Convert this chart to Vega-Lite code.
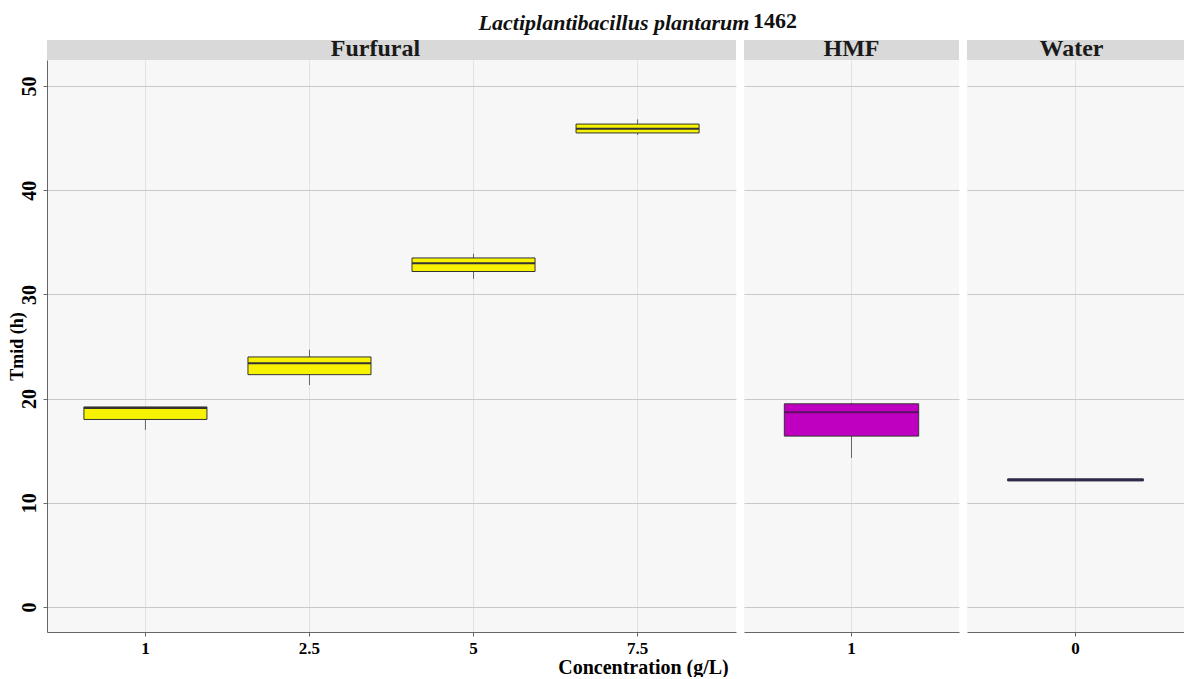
{
  "$schema": "https://vega.github.io/schema/vega-lite/v6.json",
  "padding": {"left": 8, "top": 10, "right": 0, "bottom": 0},
  "background": "white",
  "datasets": {
    "boxes": [
      {"panel": "Furfural", "conc": "1", "lower": 17.0, "q1": 18.0, "median": 19.1, "q3": 19.2, "upper": 19.2},
      {"panel": "Furfural", "conc": "2.5", "lower": 21.3, "q1": 22.3, "median": 23.4, "q3": 24.0, "upper": 24.7},
      {"panel": "Furfural", "conc": "5", "lower": 31.5, "q1": 32.2, "median": 33.0, "q3": 33.5, "upper": 33.9},
      {"panel": "Furfural", "conc": "7.5", "lower": 45.3, "q1": 45.5, "median": 45.9, "q3": 46.35, "upper": 46.8},
      {"panel": "HMF", "conc": "1", "lower": 14.3, "q1": 16.4, "median": 18.7, "q3": 19.5, "upper": 19.6},
      {"panel": "Water", "conc": "0", "lower": 12.2, "q1": 12.1, "median": 12.2, "q3": 12.3, "upper": 12.2}
    ],
    "panels": [{"panel": "Furfural"}, {"panel": "HMF"}, {"panel": "Water"}]
  },
  "config": {
    "font": "Liberation Serif",
    "view": {"fill": "#f7f7f7", "stroke": null},
    "axis": {
      "labelFont": "Liberation Serif", "labelFontWeight": "bold", "labelColor": "#000000",
      "titleFont": "Liberation Serif", "titleFontWeight": "bold", "titleColor": "#000000",
      "tickColor": "#666666", "domainColor": "#666666", "tickSize": 4
    },
    "axisY": {"gridColor": "#c9c9c9", "labelAngle": 270, "labelAlign": "center", "labelBaseline": "bottom", "labelPadding": 4, "labelFontSize": 20},
    "axisX": {"gridColor": "#e2e2e2", "labelAngle": 0, "bandPosition": 0.5, "labelPadding": 4, "labelFontSize": 17, "labelBaseline": "top"}
  },
  "title": {"text": "Lactiplantibacillus plantarum", "font": "Liberation Serif", "fontStyle": "italic", "fontWeight": "bold", "fontSize": 22, "color": "#111111", "anchor": "middle", "offset": 0, "dy": 25, "dx": 18},
  "vconcat": [
    {
      "title": {"text": "1462", "font": "Liberation Serif", "fontWeight": "bold", "fontSize": 22, "color": "#111111", "anchor": "middle", "dx": 179, "offset": 4},
      "spacing": 8,
      "hconcat": [
        {
          "bounds": "flush",
          "spacing": 0,
          "vconcat": [
            {
              "width": 689, "height": 20,
              "view": {"fill": "#d9d9d9", "stroke": null},
              "data": {"name": "panels"},
              "transform": [{"filter": "datum.panel === 'Furfural'"}],
              "mark": {"type": "text", "font": "Liberation Serif", "fontSize": 24, "fontWeight": "bold", "color": "#1a1a1a", "baseline": "middle", "dy": -1, "dx": -16},
              "encoding": {"text": {"field": "panel"}}
            },
            {
              "width": 689, "height": 572,
              "data": {"name": "boxes"},
              "transform": [{"filter": "datum.panel === 'Furfural'"}],
              "encoding": {
                "x": {"field": "conc", "type": "ordinal", "sort": ["1", "2.5", "5", "7.5"],
                  "scale": {"paddingInner": 0, "paddingOuter": 0.1},
                  "axis": {"title": "Concentration (g/L)", "titleFontSize": 20, "titleX": 596, "titleY": 25, "titleAlign": "center", "titleBaseline": "top", "grid": true}}
              },
              "layer": [
                {"mark": {"type": "rule", "color": "#666666", "strokeWidth": 1},
                 "encoding": {"y": {"field": "lower", "type": "quantitative", "scale": {"domain": [-2.4, 52.5], "nice": false, "zero": false},
                   "axis": {"title": "Tmid (h)", "titleFontSize": 18, "titlePadding": -7, "values": [0, 10, 20, 30, 40, 50], "grid": true}},
                   "y2": {"field": "upper"}}},
                {"mark": {"type": "bar", "width": {"band": 0.75}, "stroke": "#333333", "strokeWidth": 1},
                 "encoding": {"y": {"field": "q1", "type": "quantitative", "scale": {"domain": [-2.4, 52.5], "nice": false, "zero": false},
                   "axis": {"title": "Tmid (h)", "titleFontSize": 18, "titlePadding": -7, "values": [0, 10, 20, 30, 40, 50], "grid": true}},
                   "y2": {"field": "q3"},
                   "color": {"field": "panel", "type": "nominal", "scale": {"domain": ["Furfural", "HMF", "Water"], "range": ["#f7f200", "#c000c0", "#2d2a4a"]}, "legend": null}}},
                {"mark": {"type": "bar", "width": {"band": 0.75}, "fill": "#333333", "stroke": "#333333", "strokeWidth": 2},
                 "encoding": {"y": {"field": "median", "type": "quantitative", "scale": {"domain": [-2.4, 52.5], "nice": false, "zero": false},
                   "axis": {"title": "Tmid (h)", "titleFontSize": 18, "titlePadding": -7, "values": [0, 10, 20, 30, 40, 50], "grid": true}},
                   "y2": {"field": "median"}}}
              ]
            }
          ]
        },
        {
          "bounds": "flush",
          "spacing": 0,
          "vconcat": [
            {
              "width": 215, "height": 20,
              "view": {"fill": "#d9d9d9", "stroke": null},
              "data": {"name": "panels"},
              "transform": [{"filter": "datum.panel === 'HMF'"}],
              "mark": {"type": "text", "font": "Liberation Serif", "fontSize": 24, "fontWeight": "bold", "color": "#1a1a1a", "baseline": "middle", "dy": -1},
              "encoding": {"text": {"field": "panel"}}
            },
            {
              "width": 215, "height": 572,
              "data": {"name": "boxes"},
              "transform": [{"filter": "datum.panel === 'HMF'"}],
              "encoding": {
                "x": {"field": "conc", "type": "ordinal",
                  "scale": {"paddingInner": 0, "paddingOuter": 0.1},
                  "axis": {"title": null, "grid": true}}
              },
              "layer": [
                {"mark": {"type": "rule", "color": "#666666", "strokeWidth": 1},
                 "encoding": {"y": {"field": "lower", "type": "quantitative", "scale": {"domain": [-2.4, 52.5], "nice": false, "zero": false},
                   "axis": {"title": null, "values": [0, 10, 20, 30, 40, 50], "grid": true, "labels": false, "ticks": false, "domain": false}},
                   "y2": {"field": "upper"}}},
                {"mark": {"type": "bar", "width": {"band": 0.75}, "stroke": "#333333", "strokeWidth": 1},
                 "encoding": {"y": {"field": "q1", "type": "quantitative", "scale": {"domain": [-2.4, 52.5], "nice": false, "zero": false},
                   "axis": {"title": null, "values": [0, 10, 20, 30, 40, 50], "grid": true, "labels": false, "ticks": false, "domain": false}},
                   "y2": {"field": "q3"},
                   "color": {"field": "panel", "type": "nominal", "scale": {"domain": ["Furfural", "HMF", "Water"], "range": ["#f7f200", "#c000c0", "#2d2a4a"]}, "legend": null}}},
                {"mark": {"type": "bar", "width": {"band": 0.75}, "fill": "#5a1060", "stroke": "#5a1060", "strokeWidth": 2},
                 "encoding": {"y": {"field": "median", "type": "quantitative", "scale": {"domain": [-2.4, 52.5], "nice": false, "zero": false},
                   "axis": {"title": null, "values": [0, 10, 20, 30, 40, 50], "grid": true, "labels": false, "ticks": false, "domain": false}},
                   "y2": {"field": "median"}}}
              ]
            }
          ]
        },
        {
          "bounds": "flush",
          "spacing": 0,
          "vconcat": [
            {
              "width": 217, "height": 20,
              "view": {"fill": "#d9d9d9", "stroke": null},
              "data": {"name": "panels"},
              "transform": [{"filter": "datum.panel === 'Water'"}],
              "mark": {"type": "text", "font": "Liberation Serif", "fontSize": 24, "fontWeight": "bold", "color": "#1a1a1a", "baseline": "middle", "dy": -1, "dx": -4},
              "encoding": {"text": {"field": "panel"}}
            },
            {
              "width": 217, "height": 572,
              "data": {"name": "boxes"},
              "transform": [{"filter": "datum.panel === 'Water'"}],
              "encoding": {
                "x": {"field": "conc", "type": "ordinal",
                  "scale": {"paddingInner": 0, "paddingOuter": 0.1},
                  "axis": {"title": null, "grid": true}}
              },
              "layer": [
                {"mark": {"type": "rule", "color": "#666666", "strokeWidth": 1},
                 "encoding": {"y": {"field": "lower", "type": "quantitative", "scale": {"domain": [-2.4, 52.5], "nice": false, "zero": false},
                   "axis": {"title": null, "values": [0, 10, 20, 30, 40, 50], "grid": true, "labels": false, "ticks": false, "domain": false}},
                   "y2": {"field": "upper"}}},
                {"mark": {"type": "bar", "width": {"band": 0.75}, "stroke": "#2d2a4a", "strokeWidth": 1},
                 "encoding": {"y": {"field": "q1", "type": "quantitative", "scale": {"domain": [-2.4, 52.5], "nice": false, "zero": false},
                   "axis": {"title": null, "values": [0, 10, 20, 30, 40, 50], "grid": true, "labels": false, "ticks": false, "domain": false}},
                   "y2": {"field": "q3"},
                   "color": {"field": "panel", "type": "nominal", "scale": {"domain": ["Furfural", "HMF", "Water"], "range": ["#f7f200", "#c000c0", "#2d2a4a"]}, "legend": null}}},
                {"mark": {"type": "bar", "width": {"band": 0.75}, "fill": "#2d2a4a", "stroke": "#2d2a4a", "strokeWidth": 2},
                 "encoding": {"y": {"field": "median", "type": "quantitative", "scale": {"domain": [-2.4, 52.5], "nice": false, "zero": false},
                   "axis": {"title": null, "values": [0, 10, 20, 30, 40, 50], "grid": true, "labels": false, "ticks": false, "domain": false}},
                   "y2": {"field": "median"}}}
              ]
            }
          ]
        }
      ]
    }
  ]
}
